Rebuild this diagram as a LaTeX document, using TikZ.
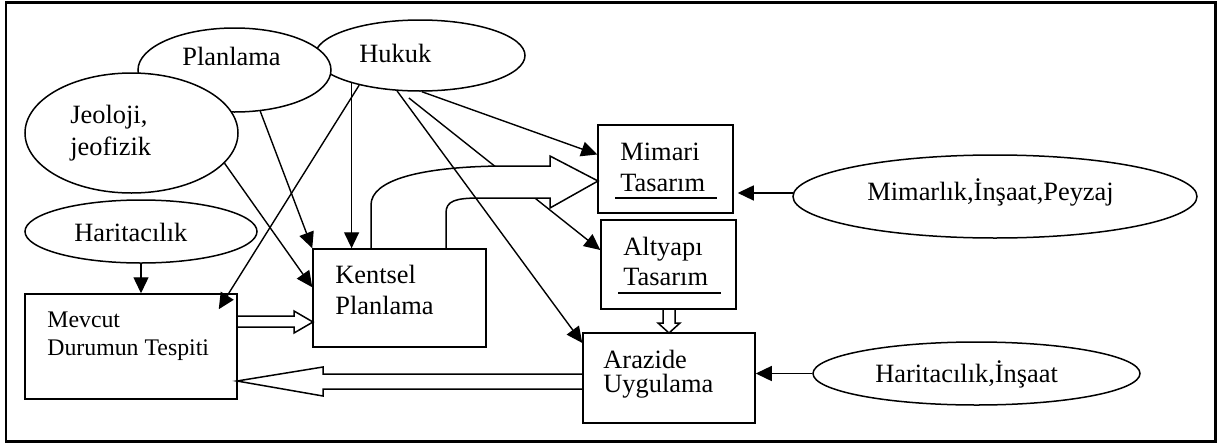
\documentclass[tikz,border=0pt]{standalone}
\usepackage{fontspec}
\setmainfont{Liberation Serif}
\usetikzlibrary{arrows.meta,calc,shapes.geometric}
\begin{document}
\begin{tikzpicture}[x=0.5pt,y=-0.5pt,
  ell/.style={ellipse, draw, fill=white, line width=0.75pt, inner sep=0pt},
  box/.style={rectangle, draw, line width=0.75pt, inner sep=0pt},
  arr/.style={line width=0.7pt, -{Triangle[length=8pt,width=7.5pt]}},
  hollow/.style={line width=0.75pt, line join=miter},
  lbl/.style={anchor=base west, inner sep=0pt, font=\fontsize{13.2pt}{15pt}\selectfont},
  lblsmall/.style={anchor=base west, inner sep=0pt, font=\fontsize{11.9pt}{14pt}\selectfont},
  ul/.style={line width=0.75pt}]
\useasboundingbox (0,0) rectangle (1221,445);
\draw[line width=1.1pt] (6,2.5) rectangle (1215.5,441.5);

% ellipses
\node[ell, minimum width=105pt, minimum height=35.5pt] (hukuk) at (420,55.5) {};
\node[ell, minimum width=96.5pt, minimum height=42pt] (planlama) at (234.5,70) {};
\node[ell, minimum width=106.5pt, minimum height=60pt] (jeoloji) at (131.5,133) {};
\node[ell, minimum width=116pt, minimum height=31.5pt] (harit1) at (141,231.5) {};
\node[ell, minimum width=202pt, minimum height=41.5pt] (mimarlik) at (995,196.5) {};
\node[ell, minimum width=163.5pt, minimum height=31.5pt] (harit2) at (976.5,373.5) {};

% boxes
\node[box, minimum width=106pt, minimum height=52.5pt] (mevcut) at (131,346.5) {};
\node[box, minimum width=67.5pt, minimum height=44pt] (mimari) at (665.5,169) {};
\node[box, minimum width=67.5pt, minimum height=44.5pt] (altyapi) at (668.5,264.5) {};
\node[box, minimum width=86pt, minimum height=45pt] (arazide) at (669,378) {};

% line hidden partly by block arrow
\draw[arr, shorten <=5.5pt] (hukuk.-119) -- (altyapi.168);

% curved block arrow Kentsel -> Mimari
\filldraw[hollow, fill=white] (371,249) -- (371,205) .. controls (371,180) and (420,167) .. (500,166) -- (550,166) -- (550,156) -- (598,181) -- (550,208) -- (550,198) -- (480,198) .. controls (455,198) and (446,201) .. (446,213) -- (446,249);

\node[box, minimum width=86.5pt, minimum height=49pt] (kentsel) at (399.5,298) {};

% connectors
\draw[arr] (planlama.-58) -- (kentsel.north west);
\draw[arr] (jeoloji.-18) -- (kentsel.173.4);
\draw[arr] (hukuk.-158) -- (hukuk.-158 |- kentsel.north);
\draw[arr] (hukuk.-154) -- ($(mevcut.north east)+(-19,16)$);
\draw[arr] (hukuk.-87) -- (mimari.168.3);
\draw[arr] (hukuk.-123.6) -- (arazide.158);
\draw[arr] (harit1.south) -- (harit1.south |- mevcut.north);
\draw[arr, shorten >=2pt] (mimarlik.179) -- (mimarlik.179 -| mimari.east);
\draw[arr] (harit2.west) -- (harit2.west -| arazide.east);

% hollow arrows
\draw[hollow] (237,316) -- (294,316) -- (294,311) -- (313,322) -- (294,333) -- (294,327) -- (237,327);
\draw[hollow] (583,374) -- (323,374) -- (323,367) -- (237,381) -- (323,396) -- (323,389) -- (583,389);
\draw[hollow] (663,309) -- (663,323) -- (658,323) -- (669,333) -- (680,323) -- (675,323) -- (675,309);

% texts
\node[lbl] (t-plan) at (182,65) {Planlama};
\node[lbl] (t-huk) at (359,62) {Hukuk};
\node[lbl] (t-jeo1) at (70,123) {Jeoloji,};
\node[lbl] (t-jeo2) at (70,155) {jeofizik};
\node[lbl] (t-har1) at (74,241) {Haritacılık};
\node[lblsmall] (t-mev1) at (47,327) {Mevcut};
\node[lblsmall] (t-mev2) at (47,355) {Durumun Tespiti};
\node[lbl] (t-ken1) at (335,283) {Kentsel};
\node[lbl] (t-ken2) at (335,314) {Planlama};
\node[lbl] (t-mim1) at (620,160) {Mimari};
\node[lbl] (t-mim2) at (620,191) {Tasarım};
\node[lbl] (t-alt1) at (623,255) {Altyapı};
\node[lbl] (t-alt2) at (623,285) {Tasarım};
\node[lbl] (t-ara1) at (603,368) {Arazide};
\node[lbl] (t-ara2) at (603,392) {Uygulama};
\node[lbl] (t-mml) at (867,200) {Mimarlık,İnşaat,Peyzaj};
\node[lbl] (t-har2) at (875,382) {Haritacılık,İnşaat};

% underlines
\draw[ul] (615,198) -- (717,198);
\draw[ul] (618,293) -- (721,293);
\end{tikzpicture}
\end{document}
